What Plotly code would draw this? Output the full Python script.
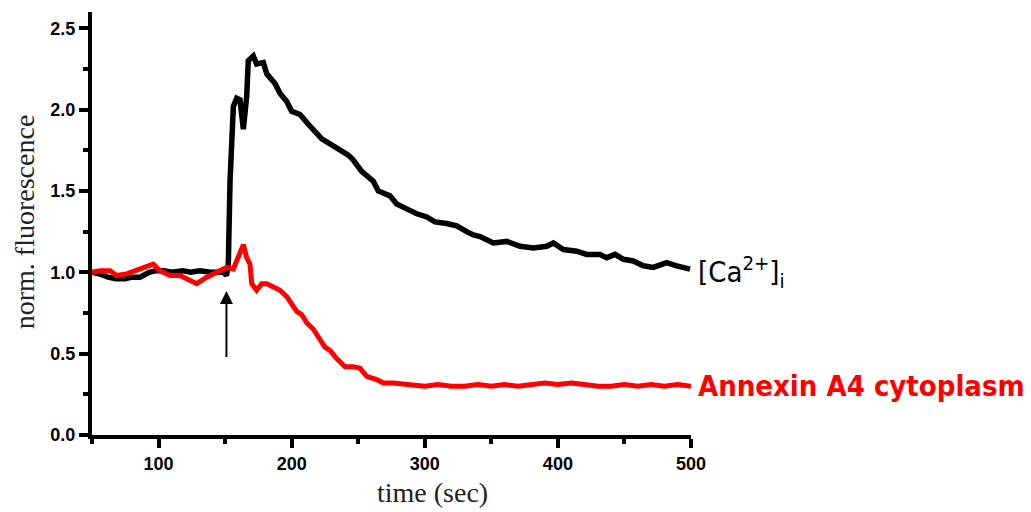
import plotly.graph_objects as go

# [Ca2+]i trace (black)
ca_time = [50, 56, 62, 68, 75, 80, 86, 93, 98, 104,
           110, 118, 124, 131, 139, 145, 149, 151, 152.4, 153.7,
           155, 156.2, 158.7, 161.2, 163.7, 166.2, 167.4, 169, 171.2, 173.7,
           178.7, 181.3, 187.5, 191.2, 196.3, 200, 206.3, 212.5, 218.8, 222.6,
           228.8, 236.3, 242.6, 246.3, 252.6, 261.3, 265.1, 273.9, 278.9, 286.4,
           294, 301.5, 307.7, 316.5, 324, 331.5, 336.5, 341.5, 351.5, 361.6,
           371.6, 381.6, 391.6, 396.6, 404.1, 414.2, 421.6, 431.7, 436.7, 443,
           449.2, 456.7, 464.2, 471.7, 481.7, 489.3, 499.3]
ca_vals = [1.00, 0.99, 0.97, 0.96, 0.96, 0.97, 0.97, 1.00, 1.01, 1.01,
           1.00, 1.01, 1.00, 1.01, 1.00, 1.00, 1.00, 0.98, 1.05, 1.56,
           1.81, 2.02, 2.07, 2.06, 1.88, 2.08, 2.30, 2.31, 2.33, 2.28,
           2.29, 2.22, 2.16, 2.10, 2.05, 1.99, 1.97, 1.91, 1.86, 1.82,
           1.79, 1.75, 1.72, 1.69, 1.62, 1.56, 1.50, 1.47, 1.42, 1.39,
           1.36, 1.34, 1.31, 1.30, 1.285, 1.25, 1.23, 1.22, 1.18, 1.19,
           1.16, 1.15, 1.16, 1.18, 1.14, 1.13, 1.11, 1.11, 1.09, 1.11,
           1.08, 1.07, 1.04, 1.03, 1.06, 1.04, 1.02]

# Annexin A4 cytoplasm trace (red)
an_time = [50, 56, 63.5, 68.5, 76, 83.6, 91, 96, 101, 108.6,
           116.1, 123.6, 128.7, 136.2, 143.7, 151.2, 156.2, 159, 161.2, 163.7,
           166.2, 168.7, 170, 173.7, 177.5, 181.3, 186.3, 191.2, 196.3, 200,
           203.8, 207.5, 211.3, 216.3, 221.3, 225, 228.8, 233.8, 240.1, 246.3,
           251.4, 256.4, 263.9, 268.9, 276.4, 286.4, 294, 300, 310, 320,
           330, 340, 350, 360, 370, 380, 390, 400, 410, 420,
           430, 440, 450, 460, 470, 480, 490, 500]
an_vals = [1.00, 1.01, 1.01, 0.98, 0.99, 1.01, 1.03, 1.05, 1.01, 0.98,
           0.98, 0.95, 0.93, 0.97, 1.00, 1.03, 1.02, 1.08, 1.13, 1.17,
           1.09, 1.05, 0.93, 0.89, 0.93, 0.93, 0.91, 0.89, 0.85, 0.81,
           0.76, 0.74, 0.69, 0.65, 0.58, 0.54, 0.52, 0.47, 0.42, 0.42,
           0.41, 0.36, 0.34, 0.32, 0.32, 0.31, 0.31, 0.30, 0.31, 0.30,
           0.30, 0.31, 0.30, 0.31, 0.30, 0.31, 0.32, 0.31, 0.32, 0.31,
           0.30, 0.30, 0.31, 0.30, 0.31, 0.30, 0.31, 0.30]

x_ticks = [100, 200, 300, 400, 500]
x_minor = [50, 150, 250, 350, 450]
y_ticks = [0.0, 0.5, 1.0, 1.5, 2.0, 2.5]
y_minor = [0.25, 0.75, 1.25, 1.75, 2.25]
stimulus_time = 151
arrow_tip, arrow_tail = 0.885, 0.47
ca_label_y, an_label_y = 1.0, 0.30

assert len(ca_time) == len(ca_vals) and len(an_time) == len(an_vals)

fig = go.Figure()
fig.add_trace(go.Scatter(x=ca_time, y=ca_vals, mode="lines",
                         line=dict(color="black", width=5.5), showlegend=False))
fig.add_trace(go.Scatter(x=an_time, y=an_vals, mode="lines",
                         line=dict(color="#ff0000", width=5), showlegend=False))

tickfont = dict(family="Liberation Sans, Arial, sans-serif", size=18,
                color="black", weight="bold")
fig.update_layout(
    width=1023, height=504,
    margin=dict(l=84, r=340, t=4, b=77, autoexpand=False),
    paper_bgcolor="white", plot_bgcolor="white",
    xaxis=dict(range=[50, 500], tickmode="array", tickvals=x_ticks,
               ticktext=[str(v) for v in x_ticks],
               showline=True, linecolor="black", linewidth=4,
               ticks="outside", ticklen=9, tickwidth=4, tickcolor="black",
               showgrid=False, zeroline=False, tickfont=tickfont, automargin=False,
               minor=dict(tickmode="array", tickvals=x_minor,
                          ticks="outside", ticklen=5, tickwidth=4, tickcolor="black")),
    yaxis=dict(range=[0, 2.6], tickmode="array", tickvals=y_ticks,
               ticktext=[f"{v:.1f}" for v in y_ticks],
               showline=True, linecolor="black", linewidth=4,
               ticks="outside", ticklen=9, tickwidth=4, tickcolor="black",
               showgrid=False, zeroline=False, tickfont=tickfont, automargin=False,
               minor=dict(tickmode="array", tickvals=y_minor,
                          ticks="outside", ticklen=5, tickwidth=4, tickcolor="black")),
)

serif = dict(family="Liberation Serif, Times New Roman, serif", size=28, color="#222")
narrow = "DejaVu Sans Condensed, Liberation Sans Narrow, Arial Narrow, sans-serif"
fig.add_annotation(xref="paper", yref="paper", x=-0.1135, y=0.503,
                   text="norm. fluorescence", textangle=-90, showarrow=False,
                   font=serif, xanchor="center", yanchor="middle")
fig.add_annotation(xref="paper", yref="paper", x=0.568, y=-0.137,
                   text="time (sec)", showarrow=False,
                   font=serif, xanchor="center", yanchor="middle")
fig.add_annotation(xref="paper", yref="y", x=1.008, y=ca_label_y,
                   text="[Ca<sup>2+</sup>]<sub>i</sub>", showarrow=False,
                   font=dict(family=narrow, size=29, color="black"),
                   xanchor="left", yanchor="middle")
fig.add_annotation(xref="paper", yref="y", x=1.008, y=an_label_y,
                   text="<b>Annexin A4 cytoplasm</b>", showarrow=False,
                   font=dict(family=narrow, size=29, color="#ff0000"),
                   xanchor="left", yanchor="middle")
fig.add_annotation(xref="x", yref="y", x=stimulus_time, y=arrow_tip,
                   axref="x", ayref="y", ax=stimulus_time, ay=arrow_tail,
                   text="", showarrow=True, arrowhead=2, arrowsize=1.3,
                   arrowwidth=2, arrowcolor="black")

fig.write_html("out.html")
